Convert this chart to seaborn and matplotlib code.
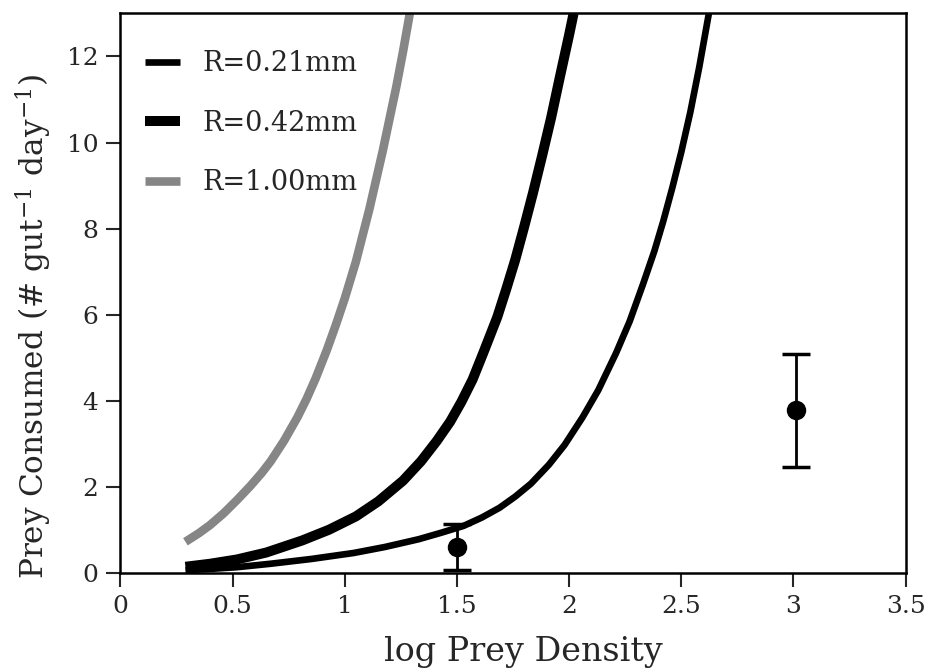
import matplotlib
matplotlib.use("Agg")
import matplotlib.pyplot as plt
import seaborn as sns
import pandas as pd

# ----------------------------
# DATA
# ----------------------------
x_r021 = [0.29, 0.40, 0.52, 0.67, 0.85, 1.04, 1.18, 1.33, 1.43, 1.53, 1.61, 1.69, 1.76, 1.83,
          1.91, 1.98, 2.06, 2.13, 2.21, 2.27, 2.33, 2.38, 2.42, 2.46, 2.50, 2.54, 2.58, 2.623]
y_r021 = [0.07, 0.10, 0.14, 0.22, 0.33, 0.47, 0.61, 0.79, 0.94, 1.10, 1.29, 1.52, 1.78, 2.08,
          2.52, 2.98, 3.62, 4.25, 5.12, 5.85, 6.72, 7.48, 8.18, 8.95, 9.78, 10.70, 11.75, 13.0]

x_r042 = [0.29, 0.40, 0.52, 0.65, 0.81, 0.93, 1.05, 1.15, 1.26, 1.34, 1.41, 1.47, 1.52, 1.57,
          1.62, 1.68, 1.72, 1.76, 1.80, 1.84, 1.88, 1.92, 1.96, 2.00, 2.02]
y_r042 = [0.15, 0.22, 0.32, 0.48, 0.76, 1.01, 1.32, 1.67, 2.15, 2.60, 3.07, 3.52, 3.98, 4.50,
          5.15, 5.95, 6.60, 7.28, 8.05, 8.85, 9.70, 10.58, 11.55, 12.50, 13.0]

x_r100 = [0.29, 0.35, 0.40, 0.46, 0.52, 0.58, 0.63, 0.67, 0.73, 0.79, 0.83, 0.87, 0.92, 0.96,
          1.00, 1.05, 1.11, 1.17, 1.23, 1.26, 1.29]
y_r100 = [0.73, 0.93, 1.12, 1.39, 1.70, 2.03, 2.33, 2.60, 3.08, 3.63, 4.05, 4.52, 5.18, 5.76,
          6.38, 7.24, 8.46, 9.82, 11.30, 12.12, 13.0]

obs_x = [1.50, 3.01]
obs_y = [0.61, 3.78]
obs_err = [0.54, 1.32]

labels = ["R=0.21mm", "R=0.42mm", "R=1.00mm"]
x_ticks = [0, 0.5, 1, 1.5, 2, 2.5, 3, 3.5]
x_ticklabels = ["0", "0.5", "1", "1.5", "2", "2.5", "3", "3.5"]
y_ticks = [0, 2, 4, 6, 8, 10, 12]

# ----------------------------
# STYLE
# ----------------------------
sns.set_theme(style="white")
plt.rcParams["font.family"] = ["DejaVu Serif"]
plt.rcParams["mathtext.fontset"] = "dejavuserif"

fig = plt.figure(figsize=(9.26, 6.72), dpi=100)
ax = fig.add_axes([0.130, 0.147, 0.848, 0.833])

curves = [
    (x_r021, y_r021, "black", 4.8),
    (x_r042, y_r042, "black", 7.2),
    (x_r100, y_r100, "#868686", 6.2),
]
for (xs, ys, col, lw), lab in zip(curves, labels):
    df = pd.DataFrame({"x": xs, "y": ys})
    sns.lineplot(data=df, x="x", y="y", ax=ax, color=col, linewidth=lw,
                 label=lab, sort=False, solid_capstyle="butt")

ax.errorbar(obs_x, obs_y, yerr=obs_err, fmt="o", color="black",
            markersize=13, elinewidth=2, capsize=10, capthick=2.5, zorder=5)

ax.set_xlim(0, 3.5)
ax.set_ylim(0, 13)
ax.set_xticks(x_ticks)
ax.set_xticklabels(x_ticklabels)
ax.set_yticks(y_ticks)
ax.tick_params(axis="both", direction="out", length=10, width=1.5, pad=6,
               labelsize=18, bottom=True, left=True, top=False, right=False)
for sp in ax.spines.values():
    sp.set_linewidth(1.8)
    sp.set_color("black")

ax.set_xlabel("log Prey Density", fontsize=24)
ax.set_ylabel("Prey Consumed (# gut$^{\\mathregular{-1}}$ day$^{\\mathregular{-1}}$)",
              fontsize=22.5)
ax.xaxis.set_label_coords(0.513, -0.112)
ax.yaxis.set_label_coords(-0.084, 0.44)

ax.legend(loc="upper left", bbox_to_anchor=(0, 0.978), frameon=False,
          fontsize=19.5, handlelength=1.3, labelspacing=1.2,
          borderaxespad=0.5, handletextpad=0.85)

fig.savefig("out.png", dpi=100)
